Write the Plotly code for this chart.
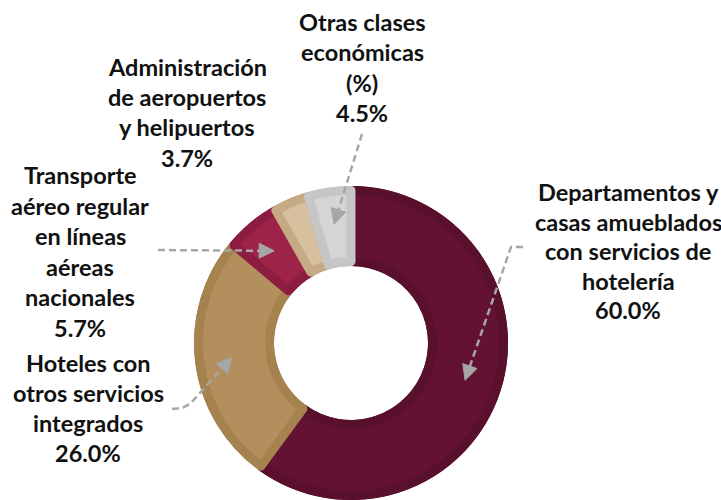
import math
import plotly.graph_objects as go

# ---------------- data ----------------
categories = [
    "Departamentos y casas amueblados con servicios de hotelería",
    "Hoteles con otros servicios integrados",
    "Transporte aéreo regular en líneas aéreas nacionales",
    "Administración de aeropuertos y helipuertos",
    "Otras clases económicas (%)",
]
values = [60.0, 26.0, 5.7, 3.7, 4.5]
label_lines = [
    ["Departamentos y", "casas amueblados", "con servicios de", "hotelería"],
    ["Hoteles con", "otros servicios", "integrados"],
    ["Transporte", "aéreo regular", "en líneas", "aéreas", "nacionales"],
    ["Administración", "de aeropuertos", "y helipuertos"],
    ["Otras clases", "económicas", "(%)"],
]
fill_colors = ["#631233", "#B48F5E", "#9E2349", "#D6C09E", "#D5D5D5"]
edge_colors = ["#58102C", "#A6824F", "#8D1C41", "#C6AA83", "#C6C6C6"]

# ---------------- layout constants (pixels) ----------------
W, H = 721, 500
CX, CY = 351, 343          # donut centre
R, RH = 157, 77            # outer / hole radius
B = 9                      # bevel width
FONT = "Lato, 'Open Sans', Arial, sans-serif"
FS = 23.5
GRAY = "#A6A6A6"

# label block: centre x, first line y, line spacing
label_pos = [(628, 192, 29.5), (88, 363, 30.0), (80, 175, 30.6),
             (187, 67, 30.2), (362, 22, 30.5)]
# dashed leader waypoints (None = no arrow)
leader_pts = [
    [(523, 247), (511, 247)],
    [(172, 409), (182, 408), (190, 404)],
    [(158, 250)],
    None,
    [(362, 134)],
]


def X(x):
    return x / W


def Y(y):
    return 1 - y / H


def dom(r):
    return dict(x=[(CX - r) / W, (CX + r) / W],
                y=[(H - CY - r) / H, (H - CY + r) / H])


# base ring (darker bevel colour)
fig = go.Figure(go.Pie(
    labels=categories, values=values, sort=False,
    direction="clockwise", rotation=0,
    hole=RH / R, textinfo="none", hoverinfo="label+percent",
    marker=dict(colors=edge_colors, line=dict(width=0)),
    domain=dom(R), showlegend=False,
))
# inner lighter face
Ri = R - B / 2
fig.add_trace(go.Pie(
    labels=categories, values=values, sort=False,
    direction="clockwise", rotation=0,
    hole=(RH + B / 2) / Ri, textinfo="none", hoverinfo="skip",
    marker=dict(colors=fill_colors, line=dict(color=edge_colors, width=B)),
    domain=dom(Ri), showlegend=False,
))

annotations = []
shapes = []
total = sum(values)
cum = 0.0
for i, v in enumerate(values):
    cx, y0, sp = label_pos[i]
    lines = label_lines[i] + [f"{v:.1f}%"]
    for k, t in enumerate(lines):
        annotations.append(dict(
            x=X(cx), y=Y(y0 + k * sp), xref="paper", yref="paper",
            text=f"<b>{t}</b>", showarrow=False,
            xanchor="center", yanchor="middle",
            font=dict(family=FONT, size=FS, color="#111111"),
        ))
    a = 2 * math.pi * (cum + v / 2) / total
    cum += v
    pts = leader_pts[i]
    if pts is None:
        continue
    rt = (R + RH) / 2 + 3
    tx, ty = CX + rt * math.sin(a), CY - rt * math.cos(a)
    lx, ly = pts[-1]
    dx, dy = tx - lx, ty - ly
    n = math.hypot(dx, dy)
    ux, uy = dx / n, dy / n
    L, w = 15, 7.5
    bx, by = tx - L * ux, ty - L * uy
    path = f"M {X(pts[0][0])} {Y(pts[0][1])}"
    for (px, py) in pts[1:]:
        path += f" L {X(px)} {Y(py)}"
    path += f" L {X(bx + 2 * ux)} {Y(by + 2 * uy)}"
    shapes.append(dict(type="path", path=path, xref="paper", yref="paper",
                       line=dict(color=GRAY, width=2.5, dash="7px,4px")))
    p1 = (bx - w * uy, by + w * ux)
    p2 = (bx + w * uy, by - w * ux)
    tri = (f"M {X(tx)} {Y(ty)} L {X(p1[0])} {Y(p1[1])} "
           f"L {X(p2[0])} {Y(p2[1])} Z")
    shapes.append(dict(type="path", path=tri, xref="paper", yref="paper",
                       fillcolor=GRAY, line=dict(color=GRAY, width=1)))

fig.update_layout(
    width=W, height=H,
    margin=dict(l=0, r=0, t=0, b=0),
    paper_bgcolor="white",
    plot_bgcolor="white",
    annotations=annotations,
    shapes=shapes,
)

fig.write_html(
    "out.html",
    config={"displayModeBar": False},
    post_script="document.body.style.margin='0';"
                "document.body.style.overflow='hidden';",
)
